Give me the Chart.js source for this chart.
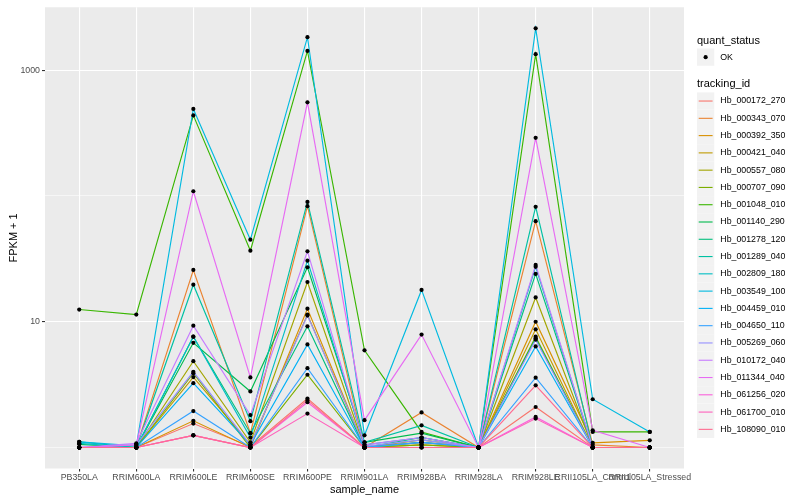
<!DOCTYPE html>
<html>
<head>
<meta charset="utf-8">
<script src="https://cdn.jsdelivr.net/npm/chart.js@4.4.1/dist/chart.umd.min.js"></script>
<style>
    html, body { margin: 0; padding: 0; background: #ffffff; }
    #wrap { width: 800px; height: 500px; }
</style>
</head>
<body>
<div id="wrap"><canvas id="fpkmChart" width="800" height="500"></canvas></div>
<script>

/* =========================================
   DATA
========================================= */

const sampleNames = ["PB350LA", "RRIM600LA", "RRIM600LE", "RRIM600SE", "RRIM600PE", "RRIM901LA",
    "RRIM928BA", "RRIM928LA", "RRIM928LE", "RRII105LA_Control", "RRII105LA_Stressed"];

const trackingIds = ["Hb_000172_270", "Hb_000343_070", "Hb_000392_350", "Hb_000421_040", "Hb_000557_080",
    "Hb_000707_090", "Hb_001048_010", "Hb_001140_290", "Hb_001278_120", "Hb_001289_040",
    "Hb_002809_180", "Hb_003549_100", "Hb_004459_010", "Hb_004650_110", "Hb_005269_060",
    "Hb_010172_040", "Hb_011344_040", "Hb_061256_020", "Hb_061700_010", "Hb_108090_010"];

// FPKM + 1, one value per sample
const hb_000172_270 = [1, 1, 1.55, 1.02, 2.45, 1, 1.1, 1, 2.1, 1, 1];
const hb_000343_070 = [1, 1, 25.8, 1.3, 83, 1, 1.9, 1, 63, 1.05, 1];
const hb_000392_350 = [1, 1, 1.63, 1, 12.7, 1, 1.05, 1, 10, 1.09, 1.14];
const hb_000421_040 = [1, 1, 3.63, 1.05, 11.4, 1, 1.1, 1, 8.7, 1, 1];
const hb_000557_080 = [1, 1, 4.86, 1.1, 20.7, 1, 1.15, 1, 15.6, 1, 1];
const hb_000707_090 = [1, 1, 3.9, 1, 3.79, 1, 1.05, 1, 7.6, 1, 1];
const hb_001048_010 = [12.5, 11.4, 437, 36.7, 1423, 5.93, 1.33, 1, 1340, 1.33, 1.33];
const hb_001140_290 = [1.06, 1, 6.8, 2.79, 27.1, 1.1, 1.3, 1, 7.4, 1, 1];
const hb_001278_120 = [1, 1, 7.6, 1.3, 9.2, 1, 1.2, 1, 24, 1, 1];
const hb_001289_040 = [1.11, 1, 19.7, 1.62, 89.6, 1.1, 1.5, 1, 82, 1, 1];
const hb_002809_180 = [1.08, 1, 7.6, 1.2, 30.6, 1.05, 1.2, 1, 27.3, 1, 1];
const hb_003549_100 = [1.11, 1.03, 492, 44.9, 1828, 1.25, 17.9, 1, 2153, 2.42, 1.33];
const hb_004459_010 = [1, 1, 3.25, 1.05, 6.6, 1, 1.1, 1, 6.36, 1, 1];
const hb_004650_110 = [1, 1, 1.95, 1, 4.27, 1, 1.1, 1, 3.59, 1, 1];
const hb_005269_060 = [1, 1.05, 4.0, 1.05, 11.2, 1.02, 1.15, 1, 7.2, 1, 1];
const hb_010172_040 = [1, 1.08, 9.3, 1.81, 36.3, 1.05, 1.2, 1, 28.3, 1, 1];
const hb_011344_040 = [1, 1.05, 109, 3.61, 555, 1.65, 7.9, 1, 290, 1.37, 1];
const hb_061256_020 = [1, 1, 1.25, 1, 2.29, 1, 1, 1, 1.75, 1, 1];
const hb_061700_010 = [1, 1, 1.25, 1, 1.86, 1, 1, 1, 1.7, 1, 1];
const hb_108090_010 = [1, 1, 1.25, 1, 2.37, 1, 1, 1, 3.12, 1, 1];

const seriesValues = [hb_000172_270, hb_000343_070, hb_000392_350, hb_000421_040, hb_000557_080,
    hb_000707_090, hb_001048_010, hb_001140_290, hb_001278_120, hb_001289_040,
    hb_002809_180, hb_003549_100, hb_004459_010, hb_004650_110, hb_005269_060,
    hb_010172_040, hb_011344_040, hb_061256_020, hb_061700_010, hb_108090_010];

// y grid: labelled breaks and minor breaks
const yLabelValues = [10, 1000];
const yGridValues = [1, 10, 100, 1000];


/* =========================================
   STYLE
========================================= */

const lineColors = ["#F8766D", "#EA8331", "#D89000", "#C09B00", "#A3A500", "#7CAE00", "#39B600",
    "#00BB4E", "#00BF7D", "#00C1A3", "#00BFC4", "#00BAE0", "#00B0F6", "#35A2FF", "#9590FF",
    "#C77CFF", "#E76BF3", "#FA62DB", "#FF62BC", "#FF6C91"];

const FONT = "'Liberation Sans', Arial, sans-serif";


/* ================================
   PANEL BACKGROUND
================================ */

const panelBackground = {
    id: "panelBackground",
    beforeDraw(chart) {
        const a = chart.chartArea;
        const ctx = chart.ctx;
        ctx.save();
        ctx.fillStyle = "#EBEBEB";
        ctx.fillRect(a.left, a.top, a.right - a.left, a.bottom - a.top);
        ctx.restore();
    }
};


/* ================================
   GGPLOT STYLE LEGEND
================================ */

const sideLegend = {
    id: "sideLegend",
    afterDraw(chart) {
        const ctx = chart.ctx;
        const x0 = 697;
        const key = 17.28;

        ctx.save();
        ctx.textBaseline = "middle";
        ctx.textAlign = "left";

        // quant_status
        ctx.fillStyle = "#000";
        ctx.font = "11px " + FONT;
        ctx.fillText("quant_status", x0, 40.5);

        ctx.fillStyle = "#F2F2F2";
        ctx.fillRect(x0, 48.5, key, key);
        ctx.fillStyle = "#000";
        ctx.beginPath();
        ctx.arc(x0 + key / 2, 48.5 + key / 2, 2.1, 0, Math.PI * 2);
        ctx.fill();
        ctx.font = "8.8px " + FONT;
        ctx.fillText("OK", x0 + key + 6, 48.5 + key / 2);

        // tracking_id
        ctx.font = "11px " + FONT;
        ctx.fillText("tracking_id", x0, 83.5);

        const top = 92.4;
        trackingIds.forEach((id, i) => {
            const y = top + i * key;
            ctx.fillStyle = "#F2F2F2";
            ctx.fillRect(x0, y, key, key);
            ctx.strokeStyle = lineColors[i];
            ctx.lineWidth = 1.1;
            ctx.beginPath();
            ctx.moveTo(x0 + 1.7, y + key / 2);
            ctx.lineTo(x0 + key - 1.7, y + key / 2);
            ctx.stroke();
            ctx.fillStyle = "#000";
            ctx.font = "8.8px " + FONT;
            ctx.fillText(id, x0 + key + 6, y + key / 2);
        });

        ctx.restore();
    }
};


/* ================================
   DATASETS
================================ */

const lineSets = trackingIds.map((id, i) => ({
    label: id,
    data: seriesValues[i].map((v, j) => ({ x: j, y: v })),
    showLine: true,
    borderColor: lineColors[i],
    borderWidth: 1.15,
    pointRadius: 0,
    fill: false,
    tension: 0,
    order: trackingIds.length - i
}));

const pointSet = {
    label: "OK",
    data: seriesValues.flatMap(vals => vals.map((v, j) => ({ x: j, y: v }))),
    showLine: false,
    pointRadius: 2.1,
    pointBackgroundColor: "#000000",
    pointBorderWidth: 0,
    order: 0
};


/* ================================
   CREATE CHART
================================ */

const fpkmChart = new Chart(document.getElementById("fpkmChart").getContext("2d"), {

    type: "scatter",

    data: {
        datasets: [...lineSets, pointSet]
    },

    options: {

        responsive: false,
        animation: false,
        devicePixelRatio: 1,

        layout: {
            padding: { left: 0, right: 116, top: 5, bottom: 0 }
        },

        plugins: {
            legend: { display: false },
            tooltip: { enabled: false }
        },

        scales: {

            x: {
                type: "linear",
                min: -0.6,
                max: sampleNames.length - 0.4,
                afterBuildTicks: s => { s.ticks = sampleNames.map((n, i) => ({ value: i })); },
                afterFit: s => { s.height = 31.5; },
                border: { display: false },
                grid: {
                    color: "#FFFFFF",
                    lineWidth: 1.1,
                    tickLength: 3,
                    tickColor: "#333333"
                },
                ticks: {
                    autoSkip: false,
                    maxRotation: 0,
                    minRotation: 0,
                    padding: 1,
                    color: "#4D4D4D",
                    font: { family: FONT, size: 8.8 },
                    callback: v => sampleNames[v]
                },
                title: {
                    display: true,
                    text: "sample_name",
                    color: "#000000",
                    font: { family: FONT, size: 11 },
                    padding: { top: 0, bottom: 3 }
                }
            },

            y: {
                type: "logarithmic",
                min: 0.681,
                max: 3162,
                afterBuildTicks: s => { s.ticks = yGridValues.map(v => ({ value: v })); },
                afterFit: s => { s.width = 45; },
                border: { display: false },
                grid: {
                    color: "#FFFFFF",
                    lineWidth: c => yLabelValues.includes(c.tick && c.tick.value) ? 1.1 : 0.55,
                    tickLength: 3,
                    tickColor: c => yLabelValues.includes(c.tick && c.tick.value) ? "#333333" : "rgba(0,0,0,0)"
                },
                ticks: {
                    autoSkip: false,
                    padding: 2,
                    color: "#4D4D4D",
                    font: { family: FONT, size: 8.8 },
                    callback: v => yLabelValues.includes(v) ? String(v) : ""
                },
                title: {
                    display: true,
                    text: "FPKM + 1",
                    color: "#000000",
                    font: { family: FONT, size: 11 },
                    padding: { top: 7, bottom: 0 }
                }
            }

        }

    },

    plugins: [panelBackground, sideLegend]

});

</script>
</body>
</html>
